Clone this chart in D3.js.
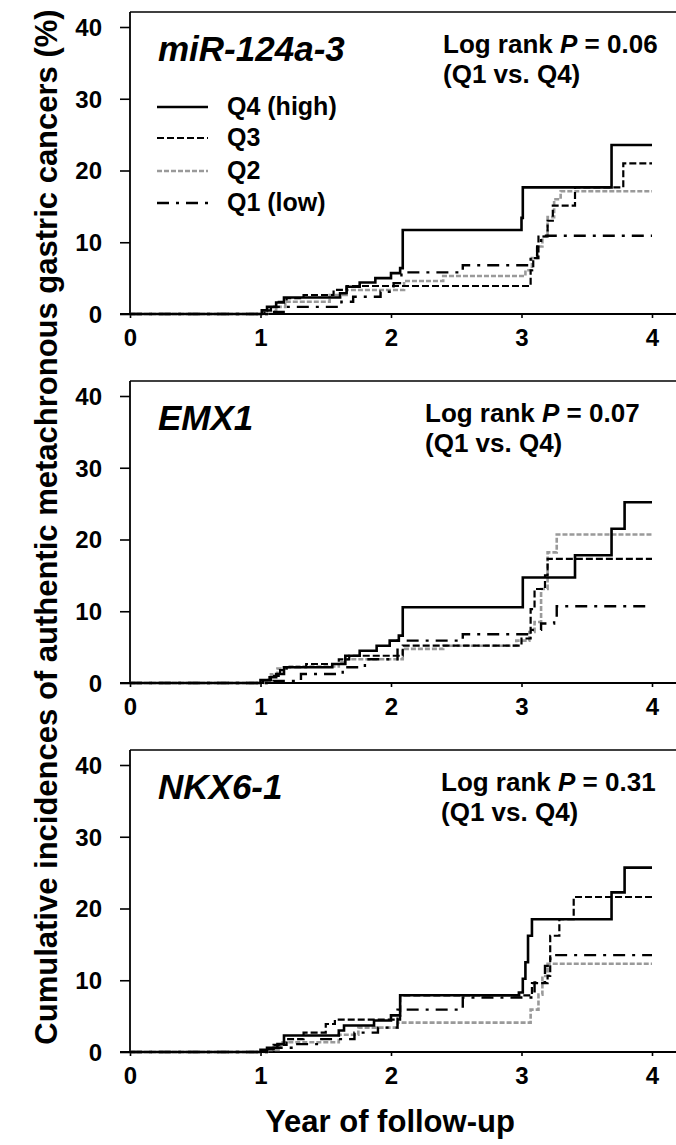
<!DOCTYPE html>
<html>
<head>
<meta charset="utf-8">
<script src="https://cdn.jsdelivr.net/npm/d3@7"></script>
<style>
  body { margin: 0; background: #fff; }
  svg { display: block; }
  text { font-family: Arial, "Liberation Sans", Helvetica, sans-serif; font-weight: bold; fill: #000; }
</style>
</head>
<body>
<div id="chart"></div>
<script>
// values: [year, cumulative %] after each step
const xTicks = [0, 1, 2, 3, 4];
const yTicks = [0, 10, 20, 30, 40];
const groupNames = ["Q4 (high)", "Q3", "Q2", "Q1 (low)"];
const genes = ["miR-124a-3", "EMX1", "NKX6-1"];
const pValues = ["0.06", "0.07", "0.31"];

const mirQ4 = [[0,0],[1.01,0.5],[1.05,1.0],[1.12,1.6],[1.18,2.3],[1.61,2.9],[1.66,3.8],[1.76,4.4],[1.88,5.0],[2.0,5.7],[2.07,6.4],[2.09,11.7],[3.0,13.4],[3.01,17.65],[3.69,23.55],[4.0,23.55]];
const mirQ3 = [[0,0],[1.03,0.5],[1.08,1.0],[1.14,1.7],[1.2,2.2],[1.33,2.65],[1.56,3.35],[1.66,3.9],[3.07,6.1],[3.09,7.8],[3.13,10.8],[3.2,13.0],[3.24,15.1],[3.41,17.65],[3.78,21.0],[4.0,21.0]];
const mirQ2 = [[0,0],[1.05,0.4],[1.12,1.0],[1.19,1.7],[1.53,2.65],[1.66,3.35],[2.1,4.6],[2.4,5.3],[3.03,6.1],[3.08,7.8],[3.12,9.4],[3.16,10.8],[3.2,13.5],[3.25,16.0],[3.3,17.1],[4.0,17.1]];
const mirQ1 = [[0,0],[1.06,0.3],[1.2,1.0],[1.62,1.7],[1.71,2.4],[1.92,3.1],[2.02,4.3],[2.08,5.8],[2.55,6.8],[3.07,8.0],[3.12,10.0],[3.15,10.9],[4.0,10.9]];

const emxQ4 = [[0,0],[1.0,0.4],[1.07,0.8],[1.12,1.25],[1.18,2.2],[1.55,2.65],[1.65,3.8],[1.76,4.5],[1.89,5.2],[1.99,5.9],[2.06,6.6],[2.09,10.55],[3.01,14.7],[3.41,17.8],[3.69,21.5],[3.79,25.2],[4.0,25.2]];
const emxQ3 = [[0,0],[1.02,0.4],[1.08,1.0],[1.15,1.8],[1.2,2.2],[1.35,2.65],[1.6,3.3],[1.68,3.8],[2.09,5.2],[3.0,6.2],[3.07,10.3],[3.1,13.1],[3.18,15.0],[3.2,17.3],[4.0,17.3]];
const emxQ2 = [[0,0],[1.04,0.4],[1.08,1.2],[1.13,2.0],[1.2,2.3],[1.6,2.9],[1.65,3.3],[2.09,4.75],[2.4,5.2],[2.96,5.9],[3.06,7.1],[3.1,8.5],[3.15,13.1],[3.2,18.2],[3.27,20.7],[4.0,20.7]];
const emxQ1 = [[0,0],[1.1,0.3],[1.31,1.25],[1.63,2.2],[1.8,3.3],[2.05,5.9],[2.55,6.8],[3.06,7.4],[3.15,8.3],[3.25,9.2],[3.27,10.7],[4.0,10.7]];

const nkxQ4 = [[0,0],[1.0,0.3],[1.05,0.6],[1.13,1.1],[1.18,2.3],[1.6,3.0],[1.64,3.7],[1.87,4.4],[2.0,5.1],[2.07,7.9],[2.98,8.3],[3.01,10.2],[3.03,12.5],[3.05,16.2],[3.08,18.5],[3.69,22.25],[3.79,25.7],[4.0,25.7]];
const nkxQ3 = [[0,0],[1.03,0.4],[1.1,1.0],[1.2,1.8],[1.33,2.7],[1.5,3.9],[1.57,4.5],[2.07,7.9],[3.08,9.6],[3.2,10.6],[3.22,16.2],[3.29,18.5],[3.4,21.6],[4.0,21.6]];
const nkxQ2 = [[0,0],[1.05,0.3],[1.15,1.35],[1.6,2.4],[1.75,3.4],[2.05,4.1],[3.07,5.9],[3.13,8.0],[3.16,10.6],[3.2,12.3],[4.0,12.3]];
const nkxQ1 = [[0,0],[1.1,0.6],[1.25,1.1],[1.45,1.8],[1.72,2.7],[1.9,3.4],[2.05,5.9],[2.55,7.6],[3.1,9.7],[3.18,12.0],[3.22,13.5],[4.0,13.5]];

const panelSeries = [
    [mirQ4, mirQ3, mirQ2, mirQ1],
    [emxQ4, emxQ3, emxQ2, emxQ1],
    [nkxQ4, nkxQ3, nkxQ2, nkxQ1]
];

// layout
const width = 676, height = 1145;
const panelTops = [12, 381, 750];
const plotH = 302;
const xLeft = 130, xRight = 652;
const pTextX = [443, 425, 441];

// line styles per group (Q4, Q3, Q2, Q1)
const styles = [
    { color: "#000", dash: null, w: 2.6 },
    { color: "#000", dash: "7,3", w: 2.2 },
    { color: "#9a9a9a", dash: "5,2", w: 2.6 },
    { color: "#000", dash: "12,7,3,7", w: 2.4 }
];
const drawOrder = [2, 3, 1, 0];

const svg = d3.select("#chart").append("svg")
    .attr("width", width)
    .attr("height", height);

const x = d3.scaleLinear().domain([0, 4]).range([xLeft, xRight]);

panelSeries.forEach((series, pi) => {
    const top = panelTops[pi];
    const y = d3.scaleLinear().domain([0, plotH / 7.175]).range([top + plotH, top]);
    const g = svg.append("g");

    // frame: top line and left axis, bottom axis runs to the edge
    g.append("line")
        .attr("x1", xLeft).attr("x2", width)
        .attr("y1", top).attr("y2", top)
        .attr("stroke", "#000").attr("stroke-width", 1.6);

    const yAxis = g.append("g")
        .attr("transform", `translate(${xLeft},0)`)
        .call(d3.axisLeft(y).tickValues(yTicks).tickFormat(d3.format("d"))
            .tickSizeInner(10).tickSizeOuter(0).tickPadding(18));
    yAxis.select(".domain").remove();
    yAxis.selectAll("line").attr("stroke-width", 1.6);
    yAxis.selectAll("text")
        .attr("font-size", "24px")
        .attr("font-family", "Arial, 'Liberation Sans', sans-serif")
        .attr("font-weight", "bold")
        .attr("fill", "#000")
        .attr("dy", "0.35em");

    const xAxis = g.append("g")
        .attr("transform", `translate(0,${y(0)})`)
        .call(d3.axisBottom(x).tickValues(xTicks).tickFormat(d3.format("d"))
            .tickSizeInner(4).tickSizeOuter(0).tickPadding(11));
    xAxis.select(".domain").remove();
    xAxis.selectAll("line").attr("stroke-width", 1.6);
    xAxis.selectAll("text")
        .attr("font-size", "24px")
        .attr("font-family", "Arial, 'Liberation Sans', sans-serif")
        .attr("font-weight", "bold")
        .attr("fill", "#000");

    g.append("line")
        .attr("x1", xLeft).attr("x2", xLeft)
        .attr("y1", top).attr("y2", y(0))
        .attr("stroke", "#000").attr("stroke-width", 1.8);
    g.append("line")
        .attr("x1", xLeft - 10).attr("x2", width)
        .attr("y1", y(0)).attr("y2", y(0))
        .attr("stroke", "#000").attr("stroke-width", 2);

    // step curves
    const line = d3.line()
        .x(d => x(d[0]))
        .y(d => y(d[1]))
        .curve(d3.curveStepAfter);

    drawOrder.forEach(si => {
        const st = styles[si];
        g.append("path")
            .datum(series[si])
            .attr("d", line)
            .attr("fill", "none")
            .attr("stroke", st.color)
            .attr("stroke-width", st.w)
            .attr("stroke-dasharray", st.dash);
    });

    // gene name
    g.append("text")
        .attr("x", 158)
        .attr("y", top + 49)
        .attr("font-size", "35px")
        .attr("font-style", "italic")
        .text(genes[pi]);

    // log rank text
    const lr = g.append("text")
        .attr("x", pTextX[pi])
        .attr("y", top + 41)
        .attr("font-size", "26px");
    lr.append("tspan").text("Log rank ");
    lr.append("tspan").attr("font-style", "italic").text("P");
    lr.append("tspan").text(" = " + pValues[pi]);
    g.append("text")
        .attr("x", pTextX[pi])
        .attr("y", top + 71)
        .attr("font-size", "26px")
        .text("(Q1 vs. Q4)");

    // legend only in the first panel
    if (pi === 0) {
        const rowY = [94, 125, 158, 190];
        groupNames.forEach((name, i) => {
            const st = styles[i];
            g.append("line")
                .attr("x1", 157).attr("x2", 208)
                .attr("y1", top + rowY[i] + 1).attr("y2", top + rowY[i] + 1)
                .attr("stroke", st.color)
                .attr("stroke-width", st.w)
                .attr("stroke-dasharray", st.dash);
            g.append("text")
                .attr("x", 227)
                .attr("y", top + rowY[i])
                .attr("dy", "0.36em")
                .attr("font-size", "25px")
                .text(name);
        });
    }
});

// axis titles
svg.append("text")
    .attr("transform", "translate(57,527) rotate(-90)")
    .attr("text-anchor", "middle")
    .attr("font-size", "31px")
    .text("Cumulative incidences of authentic metachronous gastric cancers (%)");

svg.append("text")
    .attr("x", 390)
    .attr("y", 1132)
    .attr("text-anchor", "middle")
    .attr("font-size", "31px")
    .text("Year of follow-up");
</script>
</body>
</html>
